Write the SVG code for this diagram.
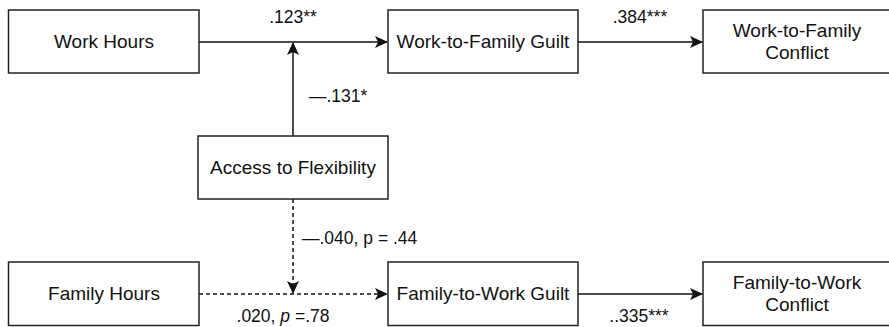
<svg xmlns="http://www.w3.org/2000/svg" width="889" height="327" viewBox="0 0 889 327">
<style>
.box{fill:#fff;stroke:#222;stroke-width:1.5}
.t{font-family:"Liberation Sans",Arial,sans-serif;font-size:19px;fill:#111;text-anchor:middle}
.l{font-family:"Liberation Sans",Arial,sans-serif;font-size:17.5px;fill:#111}
.c{fill:none;stroke:#111;stroke-width:1.5}
.d{stroke-dasharray:4 3}
</style>
<defs>
<marker id="ah" markerWidth="14" markerHeight="12" refX="12" refY="6" orient="auto" markerUnits="userSpaceOnUse">
<path d="M0,0 L13,6 L0,12 L3,6 Z" fill="#111"/>
</marker>
</defs>
<rect width="889" height="327" fill="#fff"/>
<g id="connectors">
<path class="c" d="M199,42 H387" marker-end="url(#ah)"/>
<path class="c" d="M578,42 H702" marker-end="url(#ah)"/>
<path class="c" d="M293,136 V43" marker-end="url(#ah)"/>
<path class="c d" d="M199,294 H387" marker-end="url(#ah)"/>
<path class="c d" d="M293,199 V293" marker-end="url(#ah)"/>
<path class="c" d="M578,294 H702" marker-end="url(#ah)"/>
</g>
<g id="labels">
<text class="l" x="293" y="23" text-anchor="middle">.123**</text>
<text class="l" x="640" y="23" text-anchor="middle">.384***</text>
<text class="l" x="309" y="102">—.131*</text>
<text class="l" x="302" y="244">—.040, p = .44</text>
<text class="l" x="283" y="322" text-anchor="middle">.020, <tspan font-style="italic">p</tspan> =.78</text>
<text class="l" x="639" y="322" text-anchor="middle">..335***</text>
</g>
<g id="work-hours"><rect class="box" x="8.5" y="10" width="190.5" height="63"/><text class="t" x="104" y="48">Work Hours</text></g>
<g id="wf-guilt"><rect class="box" x="388" y="10" width="190" height="63"/><text class="t" x="483" y="48">Work-to-Family Guilt</text></g>
<g id="wf-conflict"><rect class="box" x="703" y="10" width="200" height="63"/><text class="t" x="797" y="37">Work-to-Family</text><text class="t" x="797" y="59">Conflict</text></g>
<g id="access"><rect class="box" x="198" y="136" width="190" height="63"/><text class="t" x="293" y="174">Access to Flexibility</text></g>
<g id="family-hours"><rect class="box" x="8.5" y="262" width="190.5" height="63.5"/><text class="t" x="104" y="300">Family Hours</text></g>
<g id="fw-guilt"><rect class="box" x="388" y="262" width="190" height="63.5"/><text class="t" x="483" y="300">Family-to-Work Guilt</text></g>
<g id="fw-conflict"><rect class="box" x="703" y="262" width="200" height="63.5"/><text class="t" x="797" y="289">Family-to-Work</text><text class="t" x="797" y="311">Conflict</text></g>
</svg>
